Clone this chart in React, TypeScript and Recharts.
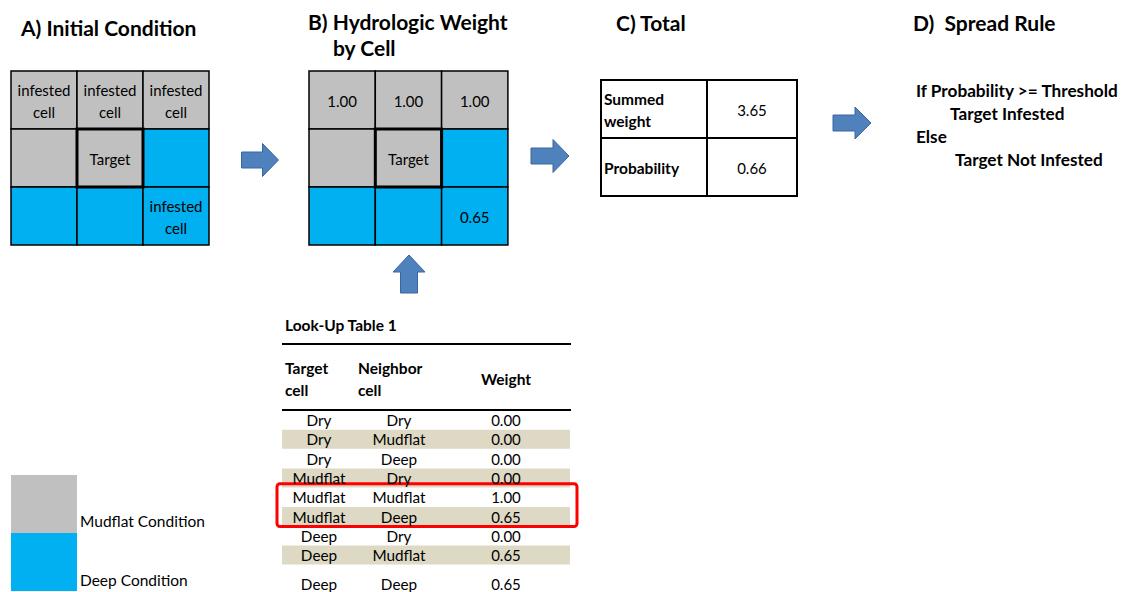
import React from 'react';
import {
  ComposedChart,
  XAxis,
  YAxis,
  Scatter,
  ReferenceArea,
  ReferenceLine,
} from 'recharts';

// ---- content ----
const initialTypes = [
  ['mudflat', 'mudflat', 'mudflat'],
  ['mudflat', 'mudflat', 'deep'],
  ['deep', 'deep', 'deep'],
];
const initialLabels = [
  ['infested\ncell', 'infested\ncell', 'infested\ncell'],
  ['', 'Target', ''],
  ['', '', 'infested\ncell'],
];
const weightLabels = [
  ['1.00', '1.00', '1.00'],
  ['', 'Target', ''],
  ['', '', '0.65'],
];
const totalNames = ['Summed\nweight', 'Probability'];
const totalValues = ['3.65', '0.66'];
const ruleLines = ['If Probability >= Threshold', 'Target Infested', 'Else', 'Target Not Infested'];
const ruleIndent = [0, 34, 0, 39];
const titles = ['A) Initial Condition', 'B) Hydrologic Weight', 'by Cell', 'C) Total', 'D)\u00A0 Spread Rule'];
const lookupTitle = 'Look-Up Table 1';
const lookupHeaders = ['Target\ncell', 'Neighbor\ncell', 'Weight'];
const lookupTarget = ['Dry', 'Dry', 'Dry', 'Mudflat', 'Mudflat', 'Mudflat', 'Deep', 'Deep', 'Deep'];
const lookupNeighbor = ['Dry', 'Mudflat', 'Deep', 'Dry', 'Mudflat', 'Deep', 'Dry', 'Mudflat', 'Deep'];
const lookupWeight = [0, 0, 0, 0, 1, 0.65, 0, 0.65, 0.65];
const highlightRows = [4, 5];
const legendNames = ['Mudflat Condition', 'Deep Condition'];

// ---- look ----
const W = 1124;
const H = 592;
const FONT = 'Lato, "Open Sans", sans-serif';
const colors: Record<string, string> = { mudflat: '#C0C0C0', deep: '#00B0F0' };
const BAND = '#DDD9C4';
const ARROW = '#4F81BD';
const ARROW_EDGE = '#3A66A0';

const gridA = { x: 11, y: 71, cw: 66, ch: 58 };
const gridB = { x: 309, y: 71, cw: 66.3, ch: 58 };
const rowY = (i: number) => (i < 8 ? 420 + i * 19.3 : 584);

interface TextItem {
  x: number;
  y: number;
  text: string;
  size: number;
  bold?: boolean;
  anchor?: 'start' | 'middle' | 'end';
  lh?: number;
}

function TextShape(props: any) {
  const { cx, cy, payload } = props;
  const p = payload as TextItem;
  const lines = p.text.split('\n');
  const lh = p.lh ?? p.size * 1.45;
  const y0 = cy - ((lines.length - 1) * lh) / 2;
  return (
    <g>
      {lines.map((l, i) => (
        <text
          key={i}
          x={cx}
          y={y0 + i * lh}
          textAnchor={p.anchor ?? 'middle'}
          dominantBaseline="central"
          fontSize={p.size}
          fontWeight={p.bold ? 700 : 400}
          fontFamily={FONT}
          fill="#000"
        >
          {l}
        </text>
      ))}
    </g>
  );
}

function ArrowShape(props: any) {
  const { cx, cy, payload } = props;
  const { len, wid, shaft, head, dir } = payload;
  const pts: [number, number][] = [
    [-len / 2, -shaft / 2],
    [len / 2 - head, -shaft / 2],
    [len / 2 - head, -wid / 2],
    [len / 2, 0],
    [len / 2 - head, wid / 2],
    [len / 2 - head, shaft / 2],
    [-len / 2, shaft / 2],
  ];
  const rot = dir === 'up' ? -90 : 0;
  return (
    <polygon
      points={pts.map((q) => q.join(',')).join(' ')}
      transform={`translate(${cx},${cy}) rotate(${rot})`}
      fill={ARROW}
      stroke={ARROW_EDGE}
      strokeWidth={1}
    />
  );
}

function buildGrid(g: typeof gridA, labels: string[][], size: number) {
  const cells: any[] = [];
  const texts: TextItem[] = [];
  initialTypes.forEach((row, r) =>
    row.forEach((t, c) => {
      const x1 = g.x + c * g.cw;
      const y1 = g.y + r * g.ch;
      cells.push({ x1, x2: x1 + g.cw, y1, y2: y1 + g.ch, fill: colors[t], target: r === 1 && c === 1 });
      if (labels[r][c]) {
        texts.push({ x: x1 + g.cw / 2, y: y1 + g.ch / 2 + 1, text: labels[r][c], size, lh: 22 });
      }
    }),
  );
  return { cells, texts };
}

const A = buildGrid(gridA, initialLabels, 15);
const B = buildGrid(gridB, weightLabels, 15);

const textItems: TextItem[] = [
  { x: 21, y: 27, text: titles[0], size: 21, bold: true, anchor: 'start' },
  { x: 308, y: 21, text: titles[1], size: 21, bold: true, anchor: 'start' },
  { x: 333, y: 47, text: titles[2], size: 21, bold: true, anchor: 'start' },
  { x: 616, y: 22, text: titles[3], size: 21, bold: true, anchor: 'start' },
  { x: 913, y: 22, text: titles[4], size: 21, bold: true, anchor: 'start' },
  ...A.texts,
  ...B.texts,
  ...totalNames.map((t, i) => ({ x: 604, y: 110 + i * 58, text: t, size: 15.5, bold: true, anchor: 'start' as const, lh: 22 })),
  ...totalValues.map((t, i) => ({ x: 752, y: 110 + i * 58, text: t, size: 15 })),
  ...ruleLines.map((t, i) => ({ x: 916 + ruleIndent[i], y: 90 + i * 23, text: t, size: 17.2, bold: true, anchor: 'start' as const })),
  { x: 285, y: 325, text: lookupTitle, size: 15.5, bold: true, anchor: 'start' },
  { x: 285, y: 379, text: lookupHeaders[0], size: 15.5, bold: true, anchor: 'start', lh: 22 },
  { x: 358, y: 379, text: lookupHeaders[1], size: 15.5, bold: true, anchor: 'start', lh: 22 },
  { x: 506, y: 379, text: lookupHeaders[2], size: 15.5, bold: true },
  ...lookupTarget.map((t, i) => ({ x: 319, y: rowY(i), text: t, size: 15.3 })),
  ...lookupNeighbor.map((t, i) => ({ x: 399, y: rowY(i), text: t, size: 15.3 })),
  ...lookupWeight.map((v, i) => ({ x: 506, y: rowY(i), text: v.toFixed(2), size: 15 })),
  ...legendNames.map((t, i) => ({ x: 80, y: 521 + i * 59, text: t, size: 15.5, anchor: 'start' as const })),
];

const arrows = [
  { x: 260, y: 160, dir: 'right', len: 37, wid: 33, shaft: 16, head: 16 },
  { x: 550, y: 156, dir: 'right', len: 38, wid: 33, shaft: 16, head: 16 },
  { x: 852, y: 123, dir: 'right', len: 38, wid: 32, shaft: 16, head: 16 },
  { x: 409, y: 274, dir: 'up', len: 38, wid: 32, shaft: 17, head: 17 },
];

const totalCells = [0, 1].flatMap((r) => [
  { x1: 601, x2: 707, y1: 80 + r * 58, y2: 138 + r * 58 },
  { x1: 707, x2: 797, y1: 80 + r * 58, y2: 138 + r * 58 },
]);

export default function App() {
  const gridCells = [...A.cells, ...B.cells];
  return (
    <div style={{ position: 'absolute', left: 0, top: 0, width: W, height: H, background: '#fff' }}>
      <ComposedChart width={W} height={H} margin={{ top: 0, right: 0, bottom: 0, left: 0 }}>
        <XAxis type="number" dataKey="x" domain={[0, W]} hide allowDataOverflow />
        <YAxis type="number" dataKey="y" domain={[0, H]} hide reversed allowDataOverflow />

        {gridCells.map((c, i) => (
          <ReferenceArea key={`g${i}`} x1={c.x1} x2={c.x2} y1={c.y1} y2={c.y2} fill={c.fill} fillOpacity={1} stroke="#000" strokeWidth={1.5} />
        ))}
        {gridCells.filter((c) => c.target).map((c, i) => (
          <ReferenceArea key={`t${i}`} x1={c.x1} x2={c.x2} y1={c.y1} y2={c.y2} fill="none" stroke="#000" strokeWidth={3} />
        ))}

        {totalCells.map((c, i) => (
          <ReferenceArea key={`c${i}`} x1={c.x1} x2={c.x2} y1={c.y1} y2={c.y2} fill="#fff" fillOpacity={1} stroke="#000" strokeWidth={2} />
        ))}

        {lookupTarget.map((_, i) =>
          i % 2 === 1 ? (
            <ReferenceArea key={`b${i}`} x1={282} x2={570} y1={rowY(i) - 9.5} y2={rowY(i) + 9.5} fill={BAND} fillOpacity={1} stroke="none" />
          ) : null,
        )}
        <ReferenceLine segment={[{ x: 282, y: 344 }, { x: 571, y: 344 }]} stroke="#000" strokeWidth={2} />
        <ReferenceLine segment={[{ x: 282, y: 410 }, { x: 571, y: 410 }]} stroke="#000" strokeWidth={2} />

        {legendNames.map((_, i) => (
          <ReferenceArea key={`l${i}`} x1={11} x2={77} y1={475 + i * 58} y2={533 + i * 58} fill={i === 0 ? colors.mudflat : colors.deep} fillOpacity={1} stroke="none" />
        ))}

        <Scatter data={textItems} shape={TextShape} isAnimationActive={false} />
        <Scatter data={arrows} shape={ArrowShape} isAnimationActive={false} />

        <ReferenceArea
          x1={277}
          x2={577}
          y1={rowY(highlightRows[0]) - 13.5}
          y2={rowY(highlightRows[1]) + 10}
          fill="none"
          stroke="#FF0000"
          strokeWidth={3}
          radius={3}
        />
      </ComposedChart>
    </div>
  );
}
